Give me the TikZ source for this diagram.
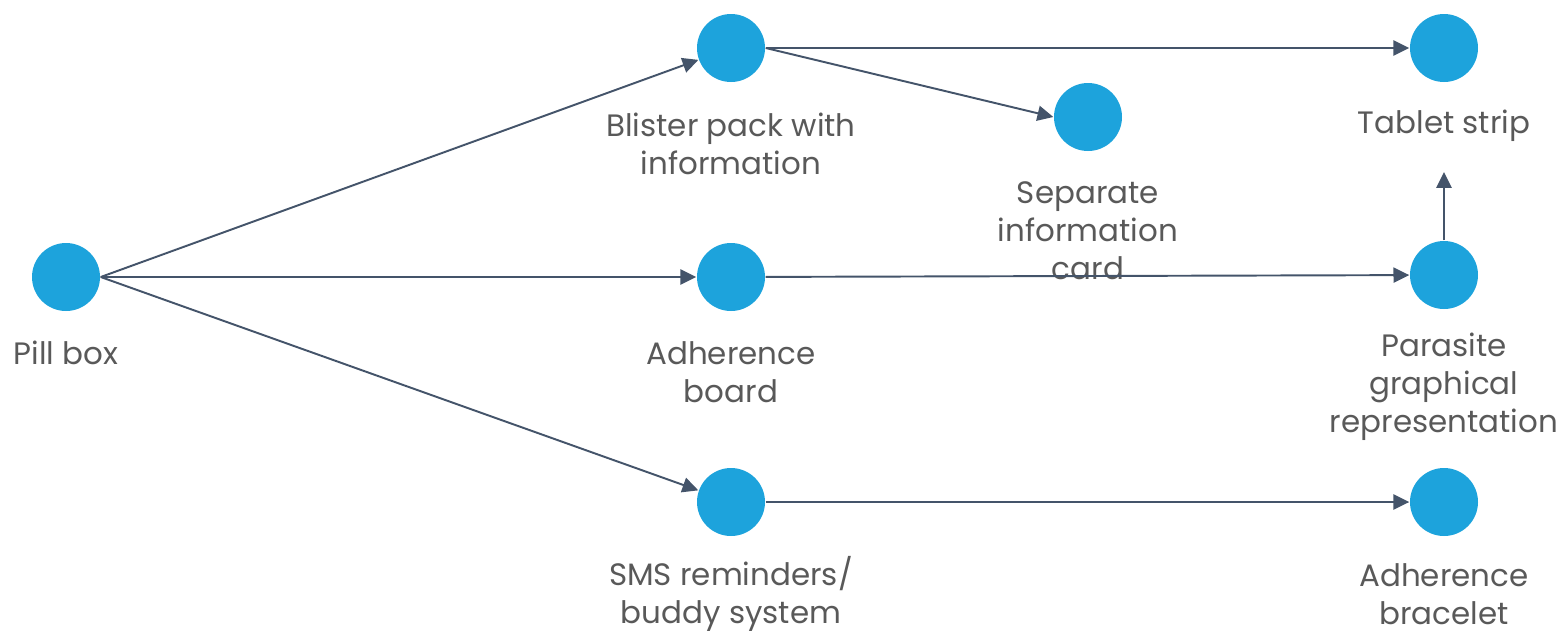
\documentclass[tikz,border=0pt]{standalone}
\usepackage{fontspec}
\setmainfont{Poppins}
\usepackage{tikz}
\usetikzlibrary{arrows.meta}

\definecolor{dotblue}{RGB}{29,163,220}
\definecolor{linkgray}{RGB}{68,84,106}
\definecolor{txtgray}{RGB}{89,89,89}

\begin{document}
\begin{tikzpicture}[
    dot/.style={circle, fill=dotblue, minimum size=0.68cm, inner sep=0pt},
    lbl/.style={align=center, text=txtgray, font=\fontsize{8.8}{10.8}\selectfont, inner sep=1pt},
    arr/.style={-{Triangle[length=4.5pt, width=4.3pt]}, line width=0.55pt, draw=linkgray},
  ]
    \useasboundingbox (0,0) rectangle (15.61,6.31);

    % Nodes -- circles
    \node[dot] (pill)     at (0.66,3.54)  {};
    \node[dot] (blister)  at (7.31,5.83)  {};
    \node[dot] (sep)      at (10.88,5.14) {};
    \node[dot] (tablet)   at (14.44,5.83) {};
    \node[dot] (board)    at (7.31,3.54)  {};
    \node[dot] (parasite) at (14.44,3.56) {};
    \node[dot] (sms)      at (7.31,1.29)  {};
    \node[dot] (bracelet) at (14.44,1.29) {};

    % Labels
    \node[lbl] (pillL)     at (0.66,2.78)  {Pill box};
    \node[lbl] (blisterL)  at (7.31,4.87)  {Blister pack with\\information};
    \node[lbl] (sepL)      at (10.88,4.00) {Separate\\information\\card};
    \node[lbl] (tabletL)   at (14.44,5.05) {Tablet strip};
    \node[lbl] (boardL)    at (7.31,2.59)  {Adherence\\board};
    \node[lbl] (parasiteL) at (14.44,2.44) {Parasite\\graphical\\representation};
    \node[lbl] (smsL)      at (7.31,0.37)  {SMS reminders/\\buddy system};
    \node[lbl] (braceletL) at (14.44,0.37) {Adherence\\bracelet};
    \coordinate (tabletTip) at (14.44,4.59);

    % Connections
    \draw[arr] (pill.east) -- (blister);
    \draw[arr] (pill.east) -- (board);
    \draw[arr] (pill.east) -- (sms);
    \draw[arr] (blister) -- (tablet);
    \draw[arr] (blister.east) -- (sep.west);
    \draw[arr] (board) -- (parasite);
    \draw[arr] (parasite) -- (tabletTip);
    \draw[arr] (sms) -- (bracelet);
  \end{tikzpicture}
\end{document}
